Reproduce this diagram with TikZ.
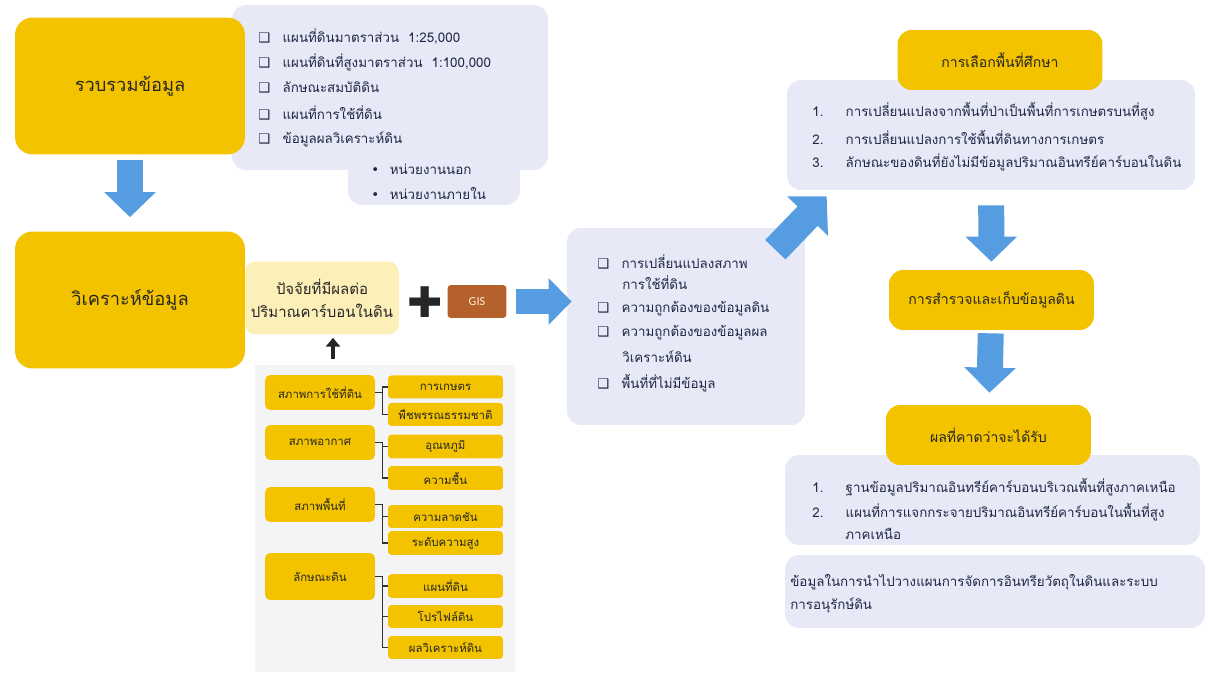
\documentclass[tikz,border=0pt]{standalone}
\usepackage{fontspec}
\setmainfont[Script=Thai]{Loma}
\newfontfamily\symfont{DejaVu Sans}
\newfontfamily\latfont{Carlito}
\usetikzlibrary{arrows.meta,positioning,calc}

\definecolor{ybox}{HTML}{F4C300}
\definecolor{ylite}{HTML}{FCEFB8}
\definecolor{lav}{HTML}{E7E9F6}
\definecolor{treebg}{HTML}{F4F4F7}
\definecolor{barrow}{HTML}{559DE0}
\definecolor{gisbrown}{HTML}{B5612C}
\definecolor{ink}{HTML}{1E2745}

\newcommand{\chk}{{\symfont\bfseries ❑}\hspace{7pt}}
\newcommand{\bul}{{\symfont •}\hspace{6pt}}
\newcommand{\num}[1]{\makebox[19pt][l]{#1}}

\begin{document}
\begin{tikzpicture}[
    x=0.02cm, y=-0.02cm,
    big/.style={fill=ybox, rounded corners=10pt, minimum width=4.6cm, minimum height=2.74cm, font=\fontsize{10.4}{13}\selectfont, text=black!85},
    head/.style={fill=ybox, rounded corners=8pt, minimum width=4.1cm, minimum height=1.2cm, font=\fontsize{8}{10}\selectfont, text=black!85},
    panel/.style={fill=lav, rounded corners=8pt},
    item/.style={anchor=west, inner sep=0pt, text=ink, font=\fontsize{7.6}{10}\selectfont},
    tpar/.style={fill=ybox, rounded corners=3pt, minimum width=2.2cm, minimum height=0.7cm, font=\fontsize{6.5}{8}\selectfont, text=black!85},
    tkid/.style={fill=ybox, rounded corners=2pt, minimum width=2.3cm, minimum height=0.46cm, font=\fontsize{6.5}{8}\selectfont, text=black!85},
    barr/.style={draw=barrow, line width=0.52cm, -{Triangle[length=0.5cm, width=1cm]}},
    brk/.style={draw=black!80, line width=0.6pt},
    uparr/.style={draw=black!85, line width=2.2pt, -{Triangle[length=5pt, width=8pt]}}
]
\useasboundingbox[fill=white] (0,0) rectangle (1208,675);

% left column
\node[panel, minimum width=3.44cm, minimum height=1.1cm] (srcext) at (434,177.5) {};
\node[panel, minimum width=6.32cm, minimum height=3.3cm] (srclist) at (390,87.5) {};
\node[big] (collect) at (130,86) {รวบรวมข้อมูล};
\node[big] (analyze) at (130,300) {วิเคราะห์ข้อมูล};

\node[item] (s1) at (258,37) {\chk แผนที่ดินมาตราส่วน\ \ 1:25,000};
\node[item] (s2) at (258,62) {\chk แผนที่ดินที่สูงมาตราส่วน\ \ 1:100,000};
\node[item] (s3) at (258,87) {\chk ลักษณะสมบัติดิน};
\node[item] (s4) at (258,113) {\chk แผนที่การใช้ที่ดิน};
\node[item] (s5) at (258,139) {\chk ข้อมูลผลวิเคราะห์ดิน};
\node[item] (s6) at (371,169) {\bul หน่วยงานนอก};
\node[item] (s7) at (371,194) {\bul หน่วยงานภายใน};

\draw[barr, shorten <=0.1cm, shorten >=0.28cm] (collect) -- (analyze);

% factors
\node[fill=ylite, rounded corners=6pt, minimum width=2.9cm, minimum height=1.46cm, align=center,
      font=\fontsize{8.5}{13}\selectfont, text=black!85] (factor) at (322,298)
      {ปัจจัยที่มีผลต่อ\\ปริมาณคาร์บอนในดิน};
\node[font=\symfont\fontsize{24}{24}\selectfont, text=black!85, inner sep=0pt] (plus) at (425,302) {✚};
\node[fill=gisbrown, rounded corners=2pt, minimum width=1.18cm, minimum height=0.66cm,
      text=white!85!orange, font=\latfont\fontsize{7}{8}\selectfont] (gis) at (477,301.5) {GIS};

\node[fill=treebg, minimum width=5.2cm, minimum height=6.14cm] (tree) at (385,518.5) {};
\draw[uparr] ($(tree.north -| factor.south)+(11,-6)$) -- ($(factor.south)+(11,3)$);

\node[tpar] (lu) at (320,392.5) {สภาพการใช้ที่ดิน};
\node[tpar] (clim) at (320,442.5) {สภาพอากาศ};
\node[tpar] (terr) at (320,504.5) {สภาพพื้นที่};
\node[tpar, minimum height=0.94cm] (soil) at (320,576.5) {ลักษณะดิน};
\node[tkid] (farm) at (445.5,387) {การเกษตร};
\node[tkid] (veg) at (445.5,414.5) {พืชพรรณธรรมชาติ};
\node[tkid] (temp) at (445.5,446.5) {อุณหภูมิ};
\node[tkid] (hum) at (445.5,478) {ความชื้น};
\node[tkid] (slope) at (445.5,516.5) {ความลาดชัน};
\node[tkid] (elev) at (445.5,543) {ระดับความสูง};
\node[tkid] (smap) at (445.5,586) {แผนที่ดิน};
\node[tkid] (prof) at (445.5,616.5) {โปรไฟล์ดิน};
\node[tkid] (anal) at (445.5,647.5) {ผลวิเคราะห์ดิน};
\foreach \p/\c in {lu/farm, lu/veg, clim/temp, clim/hum, terr/slope, terr/elev, soil/smap, soil/prof, soil/anal}
    \draw[brk] (\p.east) -- ++(7,0) |- (\c.west);

% middle
\node[panel, minimum width=4.76cm, minimum height=3.94cm] (mid) at (686,326.5) {};
\draw[barr, line width=0.5cm, -{Triangle[length=0.46cm, width=0.9cm]}, shorten <=0.18cm, shorten >=-0.1cm]
    (gis.east) -- (gis.east -| mid.west);
\node[item] (m1) at (597,262) {\chk การเปลี่ยนแปลงสภาพ};
\node[item] (m1b) at (622,283) {การใช้ที่ดิน};
\node[item] (m2) at (597,309) {\chk ความถูกต้องของข้อมูลดิน};
\node[item] (m3) at (597,333) {\chk ความถูกต้องของข้อมูลผล};
\node[item] (m3b) at (622,357) {วิเคราะห์ดิน};
\node[item] (m4) at (597,383) {\chk พื้นที่ที่ไม่มีข้อมูล};

% right column
\node[panel, minimum width=8.16cm, minimum height=2.2cm] (sellist) at (991,135) {};
\node[head] (select) at (1000,60) {การเลือกพื้นที่ศึกษา};
\node[item] (r1) at (812,111) {\num{1.}การเปลี่ยนแปลงจากพื้นที่ป่าเป็นพื้นที่การเกษตรบนที่สูง};
\node[item] (r2) at (812,137) {\num{2.}การเปลี่ยนแปลงการใช้พื้นที่ดินทางการเกษตร};
\node[item] (r3) at (812,162) {\num{3.}ลักษณะของดินที่ยังไม่มีข้อมูลปริมาณอินทรีย์คาร์บอนในดิน};

\draw[barr, line width=0.56cm, -{Triangle[length=0.55cm, width=1.1cm]}]
    ($(mid.north east)+(-30,22)$) -- ($(sellist.south west)+(40,6)$);

\node[head] (survey) at (991.5,300) {การสำรวจและเก็บข้อมูลดิน};
\draw[barr, shorten <=0.3cm, shorten >=0.16cm] (sellist) -- (survey);

\node[panel, minimum width=8.3cm, minimum height=1.8cm] (reslist) at (992.5,500) {};
\node[head] (result) at (988.5,435) {ผลที่คาดว่าจะได้รับ};
\draw[barr, shorten <=0.06cm, shorten >=0.24cm] (survey) -- (result);
\node[item] (e1) at (812,487) {\num{1.}ฐานข้อมูลปริมาณอินทรีย์คาร์บอนบริเวณพื้นที่สูงภาคเหนือ};
\node[item] (e2) at (812,512) {\num{2.}แผนที่การแจกกระจายปริมาณอินทรีย์คาร์บอนในพื้นที่สูง};
\node[item] (e2b) at (845,534) {ภาคเหนือ};

\node[panel, minimum width=8.4cm, minimum height=1.46cm] (uselist) at (995,591.5) {};
\node[item] (u1) at (790,582) {ข้อมูลในการนำไปวางแผนการจัดการอินทรียวัตถุในดินและระบบ};
\node[item] (u1b) at (790,605) {การอนุรักษ์ดิน};
\end{tikzpicture}
\end{document}
